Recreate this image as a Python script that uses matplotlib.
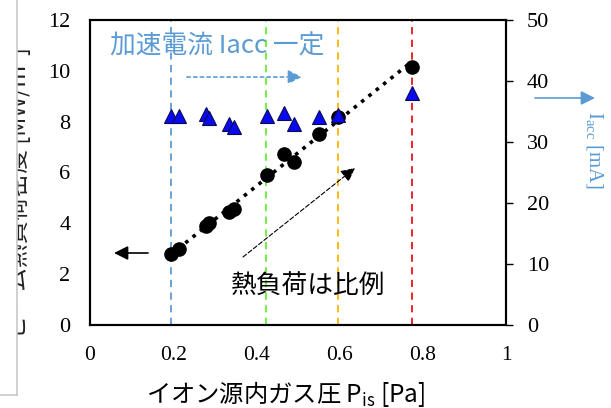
import matplotlib
matplotlib.use("Agg")
import matplotlib.pyplot as plt
import numpy as np
from matplotlib.lines import Line2D
from matplotlib.patches import Rectangle

# ---- data ----
pressure = [0.194, 0.215, 0.280, 0.285, 0.333, 0.345, 0.426, 0.466, 0.490, 0.551, 0.597, 0.773]
heat_load = [2.78, 2.98, 3.90, 4.00, 4.46, 4.55, 5.92, 6.73, 6.43, 7.52, 8.18, 10.17]
iacc = [34.3, 34.3, 34.6, 34.0, 33.0, 32.5, 34.3, 34.8, 33.0, 34.1, 34.4, 38.1]
vline_x = [0.195, 0.424, 0.595, 0.773]
vline_colors = ["#5B9BD5", "#66EE33", "#FFB300", "#E8141B"]
xticks = [0, 0.2, 0.4, 0.6, 0.8, 1]
xtick_labels = ["0", "0.2", "0.4", "0.6", "0.8", "1"]
yticks_left = [0, 2, 4, 6, 8, 10, 12]
yticks_right = [0, 10, 20, 30, 40, 50]

W, H = 611, 408
fig = plt.figure(figsize=(W / 100, H / 100), dpi=100)
plt.rcParams['font.family'] = ['Noto Sans CJK JP', 'DejaVu Sans']

def fx(px):
    return px / W

def fy(py):
    return 1 - py / H

ax = fig.add_axes([fx(90), fy(325), fx(506) - fx(90), fy(20) - fy(325)])
ax2 = ax.twinx()

serif = 'Liberation Serif'
blue = "#5B9BD5"

for xv, c in zip(vline_x, vline_colors):
    ax.axvline(xv, color=c, lw=1.3, ls=(0, (4, 3)), zorder=1)

# trend line
coef = np.polyfit(pressure, heat_load, 1)
xs = np.array([min(pressure), max(pressure)])
ax.plot(xs, np.polyval(coef, xs), color='black', ls=(0, (1, 1.6)), lw=2.6, zorder=2)
ax.plot(pressure, heat_load, 'o', color='black', ms=9.5, zorder=3)

ax2.plot(pressure, iacc, '^', color='#0A0AF0', mec='#0A0A50', mew=0.8, ms=10, zorder=3)

ax.set_xlim(0, 1)
ax.set_ylim(0, 12)
ax2.set_ylim(0, 50)
ax.set_xticks(xticks)
ax.set_xticklabels(xtick_labels)
ax.set_yticks(yticks_left)
ax2.set_yticks(yticks_right)

ax.tick_params(axis='x', length=0, pad=15, labelsize=15.5)
ax.tick_params(axis='y', length=0, pad=14, labelsize=16)
ax2.tick_params(axis='y', length=5, width=1, direction='out', pad=10, labelsize=16)
for lab in ax.get_xticklabels() + ax.get_yticklabels() + ax2.get_yticklabels():
    lab.set_fontfamily(serif)

for a in (ax, ax2):
    for s in a.spines.values():
        s.set_linewidth(1.5)

# texts
fig.text(fx(110), fy(47), "加速電流 Iacc 一定", color=blue, fontsize=18.5,
         ha='left', va='center')
fig.text(fx(308), fy(287), "熱負荷は比例", color='black', fontsize=18.5,
         ha='center', va='center')
fig.text(fx(286), fy(394), r"イオン源内ガス圧 P$_{\mathregular{is}}$ [Pa]", color='black',
         fontsize=17.5, ha='center', va='center')
fig.text(fx(594), fy(150), r"I$_{\mathregular{acc}}$ [mA]", color=blue, fontsize=15,
         rotation=270, ha='center', va='center', family=serif)
fig.text(fx(18), fy(192), "ビーム熱負荷密度 [MW/m²]", color='#222222', fontsize=17,
         rotation=90, ha='center', va='center')

def arrow(x0, y0, x1, y1, color, ls='-', lw=1.0, hw=0.35, hl=0.7):
    fig.add_artist(matplotlib.patches.FancyArrowPatch(
        (fx(x0), fy(y0)), (fx(x1), fy(y1)), transform=fig.transFigure,
        arrowstyle=f"-|>,head_width={hw},head_length={hl}", color=color,
        ls=ls, lw=lw, mutation_scale=12, shrinkA=0, shrinkB=0))

arrow(187, 77, 302, 77, blue, ls=(0, (2, 2)), lw=1.2)
arrow(535, 98, 595, 98, blue, lw=1.2)
arrow(148, 253, 114, 253, 'black', lw=1.2)
arrow(243, 257, 355, 168, 'black', ls=(0, (4, 2)), lw=0.8)

# white cover on left edge with grey border
fig.add_artist(Rectangle((0, fy(395)), fx(16.5), 1 - fy(395), transform=fig.transFigure,
                         facecolor='white', edgecolor='none', zorder=10))
fig.add_artist(Line2D([fx(16.5), fx(16.5)], [fy(395), 1], transform=fig.transFigure,
                      color='#C8C8C8', lw=1.2, zorder=11))
fig.add_artist(Line2D([0, fx(16.5)], [fy(395), fy(395)], transform=fig.transFigure,
                      color='#C8C8C8', lw=1.2, zorder=11))

fig.savefig("out.png", dpi=100)
